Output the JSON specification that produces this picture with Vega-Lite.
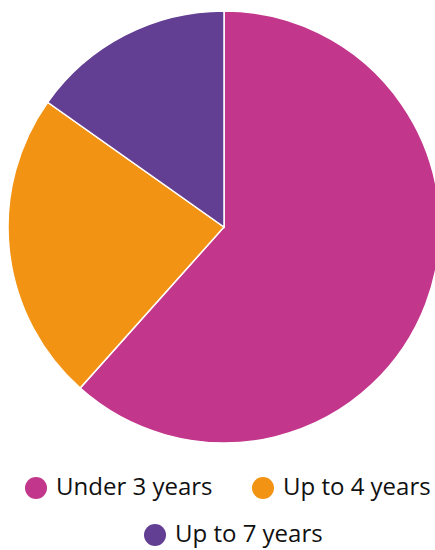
{
  "$schema": "https://vega.github.io/schema/vega-lite/v6.json",
  "autosize": {"type": "none"},
  "width": 422,
  "height": 454,
  "padding": {"left": 13, "top": 0, "right": 0, "bottom": 96},
  "background": "white",
  "config": {"view": {"stroke": null}, "font": "Open Sans"},
  "data": {"values": [
    {"group": "Under 3 years", "share": 61.6, "rank": 1},
    {"group": "Up to 4 years", "share": 23.2, "rank": 2},
    {"group": "Up to 7 years", "share": 15.2, "rank": 3}
  ]},
  "layer": [
    {
      "mark": {"type": "arc", "outerRadius": 216, "stroke": "white", "strokeWidth": 1.5},
      "encoding": {
        "theta": {"field": "share", "type": "quantitative", "stack": true},
        "order": {"field": "rank", "type": "quantitative"},
        "color": {
          "field": "group", "type": "nominal",
          "scale": {"domain": ["Under 3 years", "Up to 4 years", "Up to 7 years"], "range": ["#C2378B", "#F29313", "#633F94"]},
          "legend": {
            "values": ["Under 3 years", "Up to 4 years"],
            "orient": "none", "legendX": 11, "legendY": 476,
            "direction": "horizontal", "title": null,
            "symbolType": "circle", "symbolSize": 484, "symbolStrokeWidth": 0,
            "labelFontSize": 24, "labelFont": "Open Sans", "labelColor": "#111111",
            "labelOffset": 8, "columnPadding": 38, "padding": 0
          }
        }
      }
    },
    {
      "mark": {"type": "arc", "outerRadius": 216, "stroke": "white", "strokeWidth": 1.5},
      "encoding": {
        "theta": {"field": "share", "type": "quantitative", "stack": true},
        "order": {"field": "rank", "type": "quantitative"},
        "color": {
          "field": "group", "type": "nominal",
          "scale": {"domain": ["Under 3 years", "Up to 4 years", "Up to 7 years"], "range": ["#C2378B", "#F29313", "#633F94"]},
          "legend": {
            "values": ["Up to 7 years"],
            "orient": "none", "legendX": 130, "legendY": 523,
            "direction": "horizontal", "title": null,
            "symbolType": "circle", "symbolSize": 484, "symbolStrokeWidth": 0,
            "labelFontSize": 24, "labelFont": "Open Sans", "labelColor": "#111111",
            "labelOffset": 8, "padding": 0
          }
        }
      }
    }
  ],
  "resolve": {"scale": {"color": "independent"}}
}
